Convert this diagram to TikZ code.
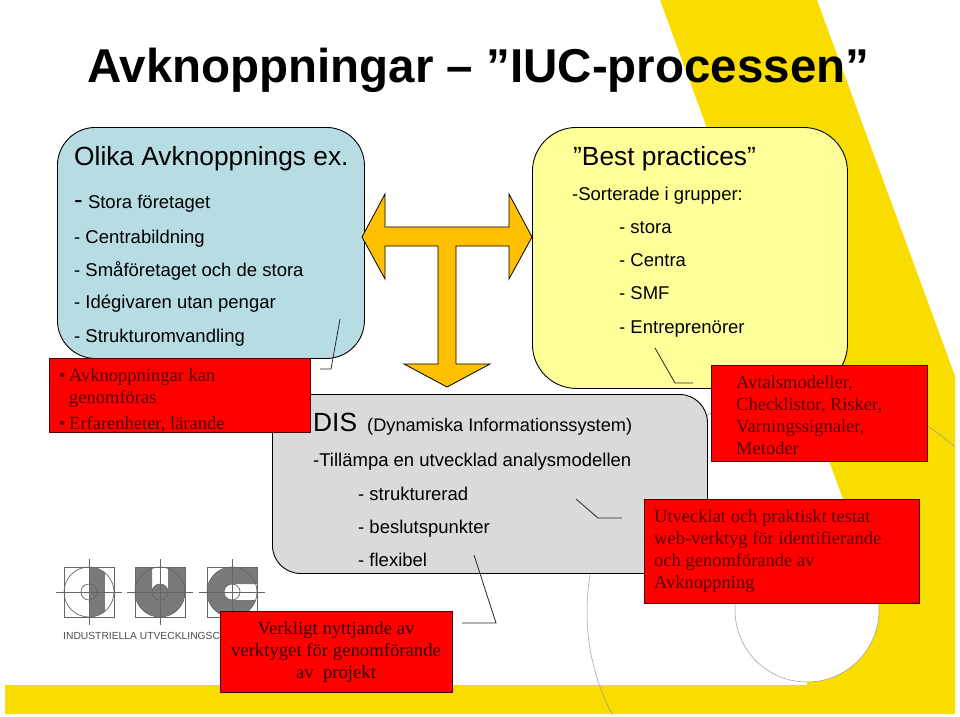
\documentclass[tikz,border=0pt]{standalone}
\usepackage{fontspec}
\setmainfont{Liberation Sans}
\newfontfamily\redfont{Liberation Serif}
\definecolor{bandyellow}{HTML}{F9DC00}
\definecolor{paleblue}{HTML}{B7DDE3}
\definecolor{paleyellow}{HTML}{FFFF99}
\definecolor{palegray}{HTML}{DADADA}
\definecolor{arroworange}{HTML}{FFC000}
\definecolor{logogray}{HTML}{7A7A7A}
\definecolor{redink}{HTML}{520000}
\usetikzlibrary{positioning}

\begin{document}
\begin{tikzpicture}[x=1pt, y=-1pt,
    panel/.style={rectangle, draw=black, line width=0.9pt, anchor=north west, inner sep=0pt},
    tag/.style={rectangle, draw=redink, line width=0.9pt, fill=red, anchor=north west, inner sep=0pt},
    big/.style={anchor=base west, inner sep=0pt, font=\fontsize{26.3}{27}\selectfont},
    txt/.style={anchor=base west, inner sep=0pt, font=\fontsize{18.5}{18}\selectfont},
    redtxt/.style={anchor=base west, inner sep=0pt, font=\redfont\fontsize{18.5}{18}\selectfont, color=redink},
    redmid/.style={anchor=base, inner sep=0pt, font=\redfont\fontsize{18.7}{18}\selectfont, color=redink!60!black},
    callout/.style={draw=black!85, line width=0.8pt},
    logoline/.style={draw=black!60, line width=0.7pt},
    hairline/.style={draw=black!40, line width=0.5pt}
  ]
    \useasboundingbox (0,0) rectangle (960,716);

    % ── Yellow background
    \fill[bandyellow] (660,0) -- (817,0) -- (955,376) -- (955,714) -- (5,714) -- (5,685) -- (807,685)
      -- (807,670) -- (860,610) -- (880,600) -- cycle;
    \draw[hairline, fill=white] (807,610) circle (72);
    \begin{scope}
      \clip (5,0) rectangle (955,714);
      \draw[hairline] (808,612) circle (221);
    \end{scope}

    % ── Title
    \node[anchor=base west, inner sep=0pt, font=\bfseries\fontsize{47.5}{48}\selectfont] (title) at (87,82)
      {Avknoppningar -- ”IUC-processen”};

    % ── Panels
    \node[panel, rounded corners=38pt, fill=paleblue, minimum width=307pt, minimum height=231pt] (blue) at (57,127) {};
    \node[panel, rounded corners=44pt, fill=paleyellow, minimum width=315pt, minimum height=261pt] (yellow) at (532,127) {};
    \node[panel, rounded corners=28pt, fill=palegray, minimum width=435pt, minimum height=179pt] (gray) at (272,394) {};

    % ── Blue panel text
    \node[big] (b0) at (74,165) {Olika Avknoppnings ex.};
    \node[txt] (b1) at (74,208) {{\fontsize{26}{27}\selectfont -} Stora företaget};
    \node[txt] (b2) at (74,243) {- Centrabildning};
    \node[txt] (b3) at (74,276) {- Småföretaget och de stora};
    \node[txt] (b4) at (74,308) {- Idégivaren utan pengar};
    \node[txt] (b5) at (74,342) {- Strukturomvandling};

    % ── Yellow panel text
    \node[big] (y0) at (573,165) {”Best practices”};
    \node[txt] (y1) at (572,200) {-Sorterade i grupper:};
    \node[txt] (y2) at (619,233) {- stora};
    \node[txt] (y3) at (619,266) {- Centra};
    \node[txt] (y4) at (619,299) {- SMF};
    \node[txt] (y5) at (619,333) {- Entreprenörer};

    % ── Gray panel text
    \node[big] (g0) at (313,431) {DIS};
    \node[txt, font=\fontsize{18.2}{18}\selectfont] (g1) at (367,431) {(Dynamiska Informationssystem)};
    \node[txt] (g2) at (313,466) {-Tillämpa en utvecklad analysmodellen};
    \node[txt] (g3) at (358,500) {- strukturerad};
    \node[txt] (g4) at (358,533) {- beslutspunkter};
    \node[txt] (g5) at (358,566) {- flexibel};

    % ── T arrow
    \draw[fill=arroworange, line width=0.8pt, line join=miter]
      (362,237) -- (385,194) -- (385,227) -- (509,227) -- (509,194) -- (532,237)
      -- (509,279) -- (509,246) -- (456,246) -- (456,364) -- (490,364) -- (447,387)
      -- (404,364) -- (438,364) -- (438,246) -- (385,246) -- (385,279) -- cycle;

    % ── Logo
    \begin{scope}
      \clip (89,592) circle (25);
      \fill[logogray] (89,567) rectangle (105,617);
    \end{scope}
    \fill[logogray] (135,567) -- (152,567) -- (152,592) arc (180:360:8) -- (168,567) -- (185,567) -- (185,592) arc (0:180:25) -- cycle;
    \fill[logogray] (257,567) -- (257,584) -- (232,584) arc (-90:-270:8) -- (255.7,600) arc (18.66:180:25) arc (180:270:25) -- cycle;
    \foreach \cx in {89,160,232} {
      \draw[logoline] (\cx-25,567) rectangle (\cx+25,617);
      \draw[logoline] (\cx,592) circle (25);
      \draw[logoline] (\cx,592) circle (8);
      \draw[logoline] (\cx-33,592) -- (\cx+33,592);
      \draw[logoline] (\cx,559) -- (\cx,625);
    }
    \node[anchor=base west, inner sep=0pt, font=\fontsize{10.3}{10}\selectfont, color=black!70] (logotext) at (63,639)
      {INDUSTRIELLA UTVECKLINGSC};

    % ── Red tags
    \node[tag, minimum width=261pt, minimum height=74pt] (tagA) at (49,358) {};
    \node[tag, minimum width=216pt, minimum height=96pt] (tagB) at (711,365) {};
    \node[tag, minimum width=275pt, minimum height=104pt] (tagC) at (644,499) {};
    \node[tag, minimum width=232pt, minimum height=81pt] (tagD) at (220,611) {};

    % ── Red tag text
    \node[redtxt] (a0) at (59,381) {•};
    \node[redtxt] (a1) at (69,381) {Avknoppningar kan};
    \node[redtxt] (a2) at (69,403) {genomföras};
    \node[redtxt] (a3) at (59,429) {•};
    \node[redtxt] (a4) at (69,429) {Erfarenheter, lärande};
    \node[redtxt] (b0a) at (736,388) {Avtalsmodeller,};
    \node[redtxt] (b1a) at (736,410) {Checklistor, Risker,};
    \node[redtxt] (b2a) at (736,432) {Varningssignaler,};
    \node[redtxt] (b3a) at (736,454) {Metoder};
    \node[redtxt] (c0) at (654,522) {Utvecklat och praktiskt testat};
    \node[redtxt] (c1) at (654,544) {web-verktyg för identifierande};
    \node[redtxt] (c2) at (654,566) {och genomförande av};
    \node[redtxt] (c3) at (654,588) {Avknoppning};
    \node[redmid] (d0) at (336,634) {Verkligt nyttjande av};
    \node[redmid] (d1) at (336,656) {verktyget för genomförande};
    \node[redmid] (d2) at (336,678) {av\ \ projekt};

    % ── Callout lines
    \coordinate (ca1) at (340,319);
    \coordinate (ca2) at (331,369);
    \coordinate (ca3) at (320,369);
    \coordinate (cb1) at (655,348);
    \coordinate (cb2) at (675,383);
    \coordinate (cb3) at (693,383);
    \coordinate (cc1) at (576,499);
    \coordinate (cc2) at (598,518);
    \coordinate (cc3) at (622,518);
    \coordinate (cd1) at (474,555);
    \coordinate (cd2) at (496,623);
    \coordinate (cd3) at (462,623);
    \draw[callout] (ca1) -- (ca2) -- (ca3);
    \draw[callout] (cb1) -- (cb2) -- (cb3);
    \draw[callout] (cc1) -- (cc2) -- (cc3);
    \draw[callout] (cd1) -- (cd2) -- (cd3);
  \end{tikzpicture}
\end{document}
